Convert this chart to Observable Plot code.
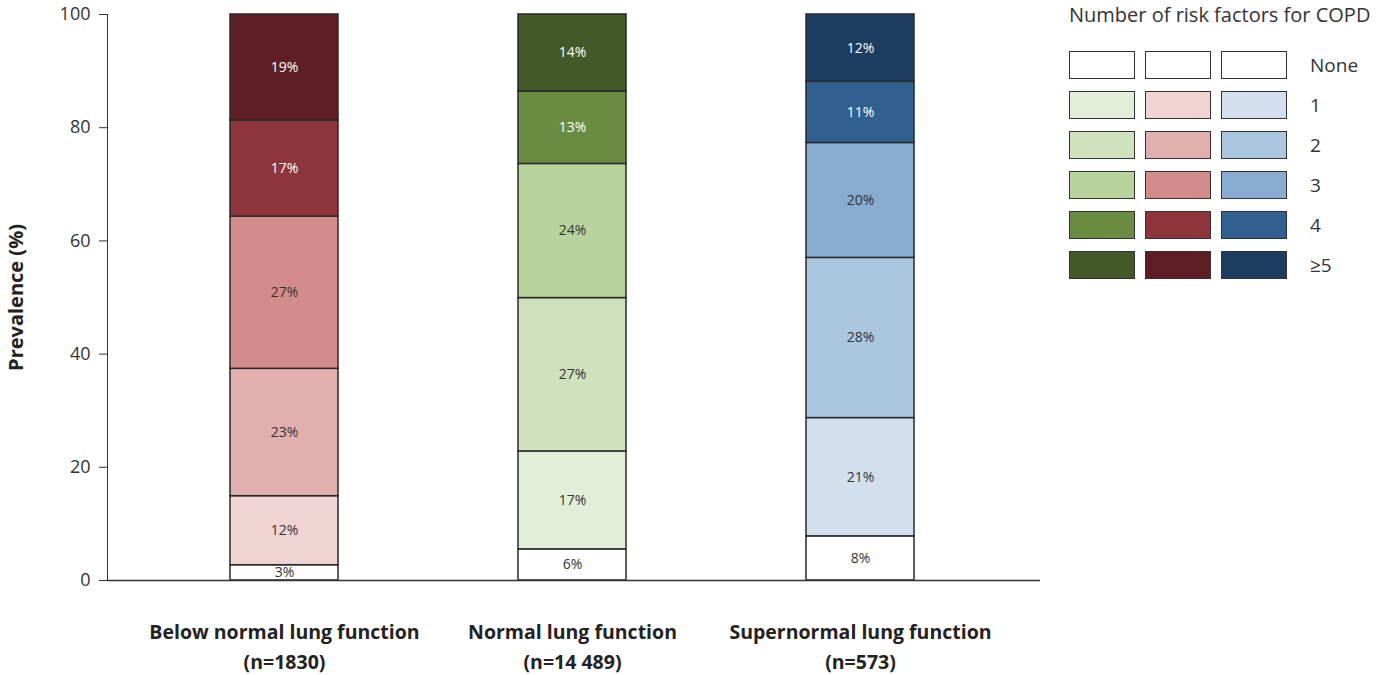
<!DOCTYPE html>
<html>
<head>
<meta charset="utf-8">
<script src="https://cdn.jsdelivr.net/npm/d3@7"></script>
<script src="https://cdn.jsdelivr.net/npm/@observablehq/plot@0.6"></script>
<style>
  body { margin: 0; background: #fff; font-family: "Open Sans", sans-serif; color: #333; }
  #wrap { position: relative; width: 1393px; height: 675px; overflow: hidden; }
  #legend { position: absolute; left: 1069px; top: 1px; }
  #legend .title { font-size: 20px; color: #333; white-space: nowrap; margin-bottom: 22px; }
  #legend .row { display: flex; align-items: center; height: 29px; margin-bottom: 11px; }
  #legend .sw { width: 64px; height: 26px; border: 1.5px solid #333; margin-right: 10px; }
  #legend .lab { font-size: 19px; margin-left: 13px; }
</style>
</head>
<body>
<div id="wrap"><div id="chart"></div><div id="legend"></div></div>
<script>
// Categories
const groupNames = ["Below normal lung function", "Normal lung function", "Supernormal lung function"];
const groupNs = ["(n=1830)", "(n=14 489)", "(n=573)"];
const levels = ["None", "1", "2", "3", "4", "≥5"];
const legendTitle = "Number of risk factors for COPD";
const yLabel = "Prevalence (%)";
const yTicks = [0, 20, 40, 60, 80, 100];

// Series values (segment heights, %), bottom (None) to top (≥5)
const belowNormal = [2.7, 12.2, 22.5, 26.9, 17.0, 18.7];
const normal = [5.5, 17.3, 27.1, 23.7, 12.8, 13.6];
const supernormal = [7.8, 20.9, 28.3, 20.3, 10.8, 11.9];

// Printed labels
const belowNormalLabels = ["3%", "12%", "23%", "27%", "17%", "19%"];
const normalLabels = ["6%", "17%", "27%", "24%", "13%", "14%"];
const supernormalLabels = ["8%", "21%", "28%", "20%", "11%", "12%"];

// Colours
const redColors = ["#ffffff", "#f0d4d3", "#e2afaf", "#d48c8b", "#8d353a", "#5e1e23"];
const greenColors = ["#ffffff", "#e3eed9", "#d0e2bd", "#b8d49d", "#6a8c42", "#44592a"];
const blueColors = ["#ffffff", "#d2e0ee", "#abc7e0", "#87abd1", "#30608f", "#1c3d5f"];

const seriesValues = [belowNormal, normal, supernormal];
const seriesLabels = [belowNormalLabels, normalLabels, supernormalLabels];
const seriesColors = [redColors, greenColors, blueColors];

const data = [];
groupNames.forEach((g, gi) => {
  levels.forEach((l, li) => {
    data.push({
      group: g, level: li, value: seriesValues[gi][li],
      label: seriesLabels[gi][li], color: seriesColors[gi][li],
      textColor: li >= 4 ? "#ffffff" : "#333333"
    });
  });
});

const chart = Plot.plot({
  width: 1393,
  height: 675,
  marginLeft: 107,
  marginRight: 353,
  marginTop: 14,
  marginBottom: 95,
  style: { fontFamily: "Open Sans, sans-serif", fontSize: "18px", color: "#333", background: "white" },
  x: { domain: groupNames, padding: 0.625, paddingOuter: 0.43, align: 0.494, axis: null },
  y: { domain: [0, 100], ticks: yTicks, tickSize: 8, tickPadding: 9, label: null, line: true },
  marks: [
    Plot.barY(data, {
      x: "group", y: "value", order: "level", fill: "color",
      stroke: "#2a2a2a", strokeWidth: 1.5
    }),
    Plot.text(data, Plot.stackY({
      x: "group", y: "value", order: "level", text: "label",
      fill: "textColor", fontSize: 14
    })),
    Plot.ruleY([0], { stroke: "#333", strokeWidth: 1.5 }),
    Plot.text(groupNames, {
      x: d => d, text: (d, i) => d + "\n" + groupNs[i],
      frameAnchor: "bottom", lineAnchor: "top", lineHeight: 1.5,
      dy: 38, fontWeight: "bold", fontSize: 19.5, fill: "#222"
    }),
    Plot.text([yLabel], {
      text: d => d, frameAnchor: "left", textAnchor: "middle", rotate: -90, dx: -91,
      fontWeight: "bold", fontSize: 20, fill: "#222"
    })
  ]
});
document.getElementById("chart").appendChild(chart);

// Legend
const legend = document.getElementById("legend");
const t = document.createElement("div");
t.className = "title"; t.textContent = legendTitle;
legend.appendChild(t);
levels.forEach((l, li) => {
  const row = document.createElement("div");
  row.className = "row";
  [greenColors, redColors, blueColors].forEach(cs => {
    const s = document.createElement("div");
    s.className = "sw"; s.style.background = cs[li];
    row.appendChild(s);
  });
  const lab = document.createElement("div");
  lab.className = "lab"; lab.textContent = l;
  row.appendChild(lab);
  legend.appendChild(row);
});
</script>
</body>
</html>
